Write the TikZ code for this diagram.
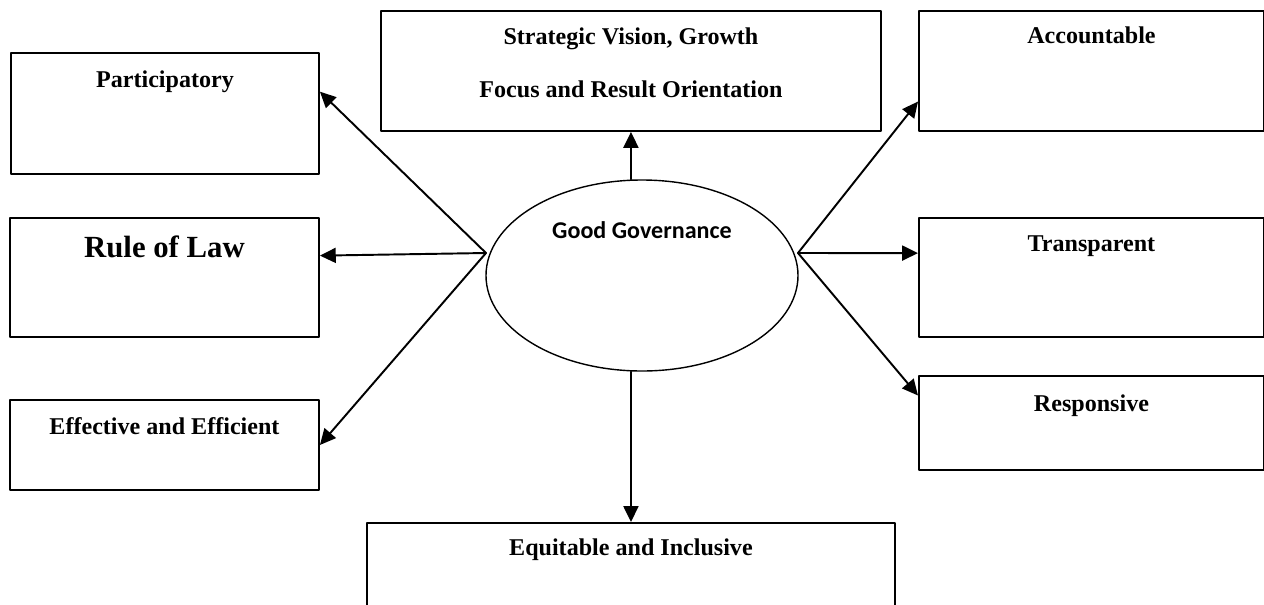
\documentclass[tikz,border=0pt]{standalone}
\usepackage{fontspec}
\setmainfont{Liberation Serif}
\newfontfamily\ggfont{Carlito}
\usetikzlibrary{arrows.meta,shapes.geometric}
\tikzset{
	gbox/.style={draw,line width=1.1pt,anchor=north west,inner sep=0pt,
		font=\bfseries\fontsize{13.7}{16}\selectfont},
	gline/.style={->,line width=1.1pt}
}
\begin{document}
\begin{tikzpicture}[>={Triangle[length=9pt,width=8.5pt]},line join=round,line cap=round]
				\useasboundingbox (0,0) rectangle (25.28,-12.08);
				% diem xuat phat cua cac mui ten
				\path 
				(9.72,-5.06) coordinate (gl)
				(15.96,-5.06) coordinate (gr);
				% hinh elip o giua
				\node[ellipse,draw,line width=0.8pt,minimum width=6.24cm,minimum height=3.82cm,inner sep=0pt,
					text height=0.35cm,text depth=1.83cm,font=\ggfont\bfseries\fontsize{13.7}{16}\selectfont]
					(gg) at (12.84,-5.51) {Good Governance};
				% cac hop ben trai
				\node[gbox,minimum width=6.16cm,text height=0.70cm,text depth=1.72cm] (part) at (0.2,-1.04) {Participatory};
				\node[gbox,minimum width=6.18cm,text height=0.80cm,text depth=1.58cm,
					font=\bfseries\fontsize{17.5}{20}\selectfont] (law) at (0.18,-4.34) {Rule of Law};
				\node[gbox,minimum width=6.18cm,text height=0.70cm,text depth=1.10cm] (eff) at (0.18,-7.98) {Effective and Efficient};
				% hop tren va hop duoi (hai dong: baseline la dong cuoi)
				\node[gbox,minimum width=10cm,align=center,text height=1.74cm,text depth=0.66cm,
					font=\bfseries\fontsize{13.7}{30.7}\selectfont] (strat) at (7.6,-0.2)
					{Strategic Vision, Growth\\Focus and Result Orientation};
				\node[gbox,minimum width=10.56cm,text height=0.66cm,text depth=1.34cm] (equ) at (7.32,-10.44) {Equitable and Inclusive};
				% cac hop ben phai
				\node[gbox,minimum width=6.9cm,text height=0.66cm,text depth=1.74cm] (acc) at (18.36,-0.2) {Accountable};
				\node[gbox,minimum width=6.9cm,text height=0.68cm,text depth=1.70cm] (trans) at (18.36,-4.34) {Transparent};
				\node[gbox,minimum width=6.9cm,text height=0.72cm,text depth=1.16cm] (resp) at (18.36,-7.5) {Responsive};
				% ve cac mui ten
				\draw[gline] (gl)--(part.8);
				\draw[gline] (gl)--(law.8.7);
				\draw[gline] (gl)--(eff.east);
				\draw[gline] (gr)--(acc.190);
				\draw[gline] (gr)--(trans.172.2);
				\draw[gline] (gr)--(resp.171.8);
				\draw[gline] (gg.north -| strat.south)--(strat.south);
				\draw[gline] (gg.south -| equ.north)--(equ.north);
			\end{tikzpicture}
\end{document}
